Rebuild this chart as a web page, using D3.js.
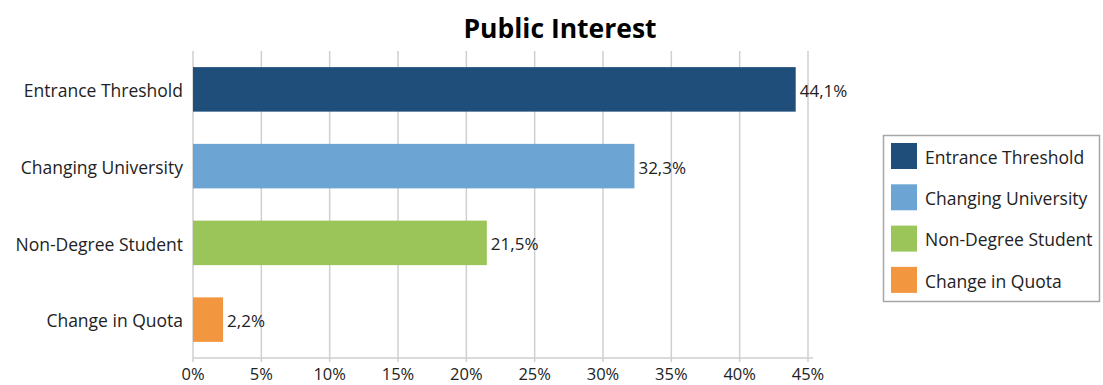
<!DOCTYPE html>
<html lang="en">
<head>
    <meta charset="UTF-8">
    <title>Public Interest</title>
    <script src="https://cdn.jsdelivr.net/npm/d3@7"></script>
    <style>
        body { margin: 0; background: #fff; }
        text { font-family: "Open Sans", "Noto Sans", sans-serif; fill: #222; }
        .grid line { stroke: #cfcfcf; stroke-width: 1.5px; }
        .title { font-weight: bold; font-size: 26.5px; fill: #000; }
    </style>
</head>
<body>
    <div id="chart"></div>
    <script>
        // data
        const categories = ["Entrance Threshold", "Changing University", "Non-Degree Student", "Change in Quota"];
        const values = [44.1, 32.3, 21.5, 2.2];
        const colors = ["#1f4e7a", "#6ca5d3", "#9bc559", "#f39640"];
        const ticks = [0, 5, 10, 15, 20, 25, 30, 35, 40, 45];

        const width = 1103, height = 385;
        const plot = { left: 193, right: 808, top: 51, bottom: 358 };

        const svg = d3.select("#chart").append("svg")
            .attr("width", width)
            .attr("height", height);

        const x = d3.scaleLinear().domain([0, 45]).range([plot.left, plot.right]);
        const y = d3.scaleBand().domain(categories)
            .range([plot.top, plot.bottom])
            .paddingInner(0.42)
            .paddingOuter(0.21);

        // title
        svg.append("text")
            .attr("class", "title")
            .attr("x", 560)
            .attr("y", 38)
            .attr("text-anchor", "middle")
            .text("Public Interest");

        // vertical grid lines
        svg.append("g").attr("class", "grid")
            .selectAll("line")
            .data(ticks)
            .join("line")
            .attr("x1", d => x(d)).attr("x2", d => x(d))
            .attr("y1", plot.top).attr("y2", plot.bottom + 4);

        // x axis line
        svg.append("line")
            .attr("x1", plot.left).attr("x2", plot.right + 5)
            .attr("y1", plot.bottom).attr("y2", plot.bottom)
            .attr("stroke", "#cfcfcf").attr("stroke-width", 1.5);

        // tick labels
        svg.append("g").selectAll("text")
            .data(ticks)
            .join("text")
            .attr("x", d => x(d))
            .attr("y", 380)
            .attr("text-anchor", "middle")
            .style("font-size", "16.5px")
            .text(d => d + "%");

        // bars
        svg.append("g").selectAll("rect")
            .data(categories)
            .join("rect")
            .attr("x", x(0))
            .attr("y", d => y(d))
            .attr("width", (d, i) => x(values[i]) - x(0))
            .attr("height", y.bandwidth())
            .attr("fill", (d, i) => colors[i]);

        // category labels
        svg.append("g").selectAll("text")
            .data(categories)
            .join("text")
            .attr("x", plot.left - 10)
            .attr("y", d => y(d) + y.bandwidth() / 2 + 1.5)
            .attr("dy", "0.35em")
            .attr("text-anchor", "end")
            .style("font-size", "17.5px")
            .text(d => d);

        // value labels
        svg.append("g").selectAll("text")
            .data(categories)
            .join("text")
            .attr("x", (d, i) => x(values[i]) + 4)
            .attr("y", d => y(d) + y.bandwidth() / 2 + 1.5)
            .attr("dy", "0.35em")
            .style("font-size", "17px")
            .text((d, i) => d3.format(".1f")(values[i]).replace(".", ",") + "%");

        // legend
        const legend = svg.append("g");
        legend.append("rect")
            .attr("x", 883.5).attr("y", 135.5)
            .attr("width", 216).attr("height", 166)
            .attr("fill", "#fff")
            .attr("stroke", "#a6a6a6").attr("stroke-width", 1.5);

        const items = legend.selectAll("g")
            .data(categories)
            .join("g")
            .attr("transform", (d, i) => `translate(891, ${143 + i * 41.3})`);
        items.append("rect")
            .attr("width", 26).attr("height", 26)
            .attr("fill", (d, i) => colors[i]);
        items.append("text")
            .attr("x", 34).attr("y", 14.5)
            .attr("dy", "0.35em")
            .style("font-size", "17.5px")
            .text(d => d);
    </script>
</body>
</html>
